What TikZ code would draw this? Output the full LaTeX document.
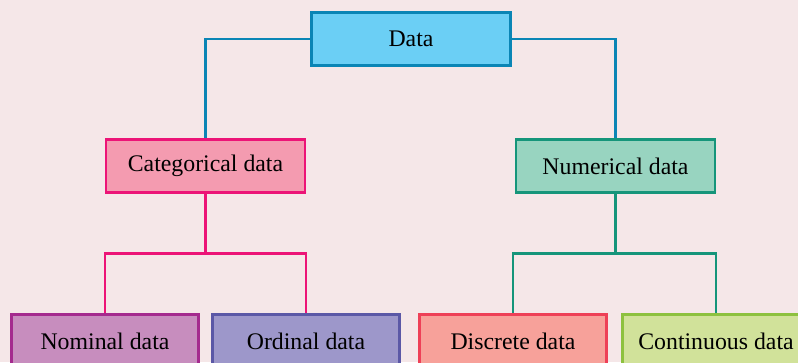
\documentclass[tikz,border=0pt]{standalone}
\usepackage{fontspec}
\setmainfont{Liberation Serif}
\definecolor{bg}{HTML}{F5E7E8}
\definecolor{dataF}{HTML}{6BCFF5}\definecolor{dataD}{HTML}{0A85B5}
\definecolor{catF}{HTML}{F49BB0}\definecolor{catD}{HTML}{EC1477}
\definecolor{numF}{HTML}{98D4C0}\definecolor{numD}{HTML}{15957A}
\definecolor{nomF}{HTML}{C78DBE}\definecolor{nomD}{HTML}{A42A8E}
\definecolor{ordF}{HTML}{9D97CA}\definecolor{ordD}{HTML}{5B58A6}
\definecolor{disF}{HTML}{F7A19A}\definecolor{disD}{HTML}{EE4057}
\definecolor{conF}{HTML}{D1E29A}\definecolor{conD}{HTML}{8DC13F}
\begin{document}
\begin{tikzpicture}[x=1pt,y=-1pt,
  box/.style={draw, line width=2.6pt, minimum height=53pt, inner sep=0pt, font=\fontsize{23.8}{26}\selectfont},
  big/.style={box, minimum width=199pt},
  small/.style={box, minimum width=187pt},
  conn/.style={line width=2.6pt}]
\fill[bg] (0,0) rectangle (798,362);
\useasboundingbox (0,0) rectangle (798,362);
\node[big, fill=dataF, draw=dataD] (data) at (411,39) {Data};
\node[big, fill=catF, draw=catD] (cat) at (205.5,166) {Categorical data};
\node[big, fill=numF, draw=numD] (num) at (615.5,166) {Numerical data};
\node[small, fill=nomF, draw=nomD] (nom) at (105,341) {Nominal data};
\node[small, fill=ordF, draw=ordD] (ord) at (306,341) {Ordinal data};
\node[small, fill=disF, draw=disD] (dis) at (513,341) {Discrete data};
\node[small, fill=conF, draw=conD] (con) at (716,341) {Continuous data};
\draw[conn, draw=dataD] (data.west) -| (cat.north);
\draw[conn, draw=dataD] (data.east) -| (num.north);
\coordinate (cj) at (205.5,253.5);
\coordinate (nj) at (615.5,253.5);
\draw[conn, draw=catD] (cat.south) -- (cj);
\draw[conn, draw=catD] (nom.north) |- (cj) -| (ord.north);
\draw[conn, draw=numD] (num.south) -- (nj);
\draw[conn, draw=numD] (dis.north) |- (nj) -| (con.north);
\end{tikzpicture}
\end{document}
